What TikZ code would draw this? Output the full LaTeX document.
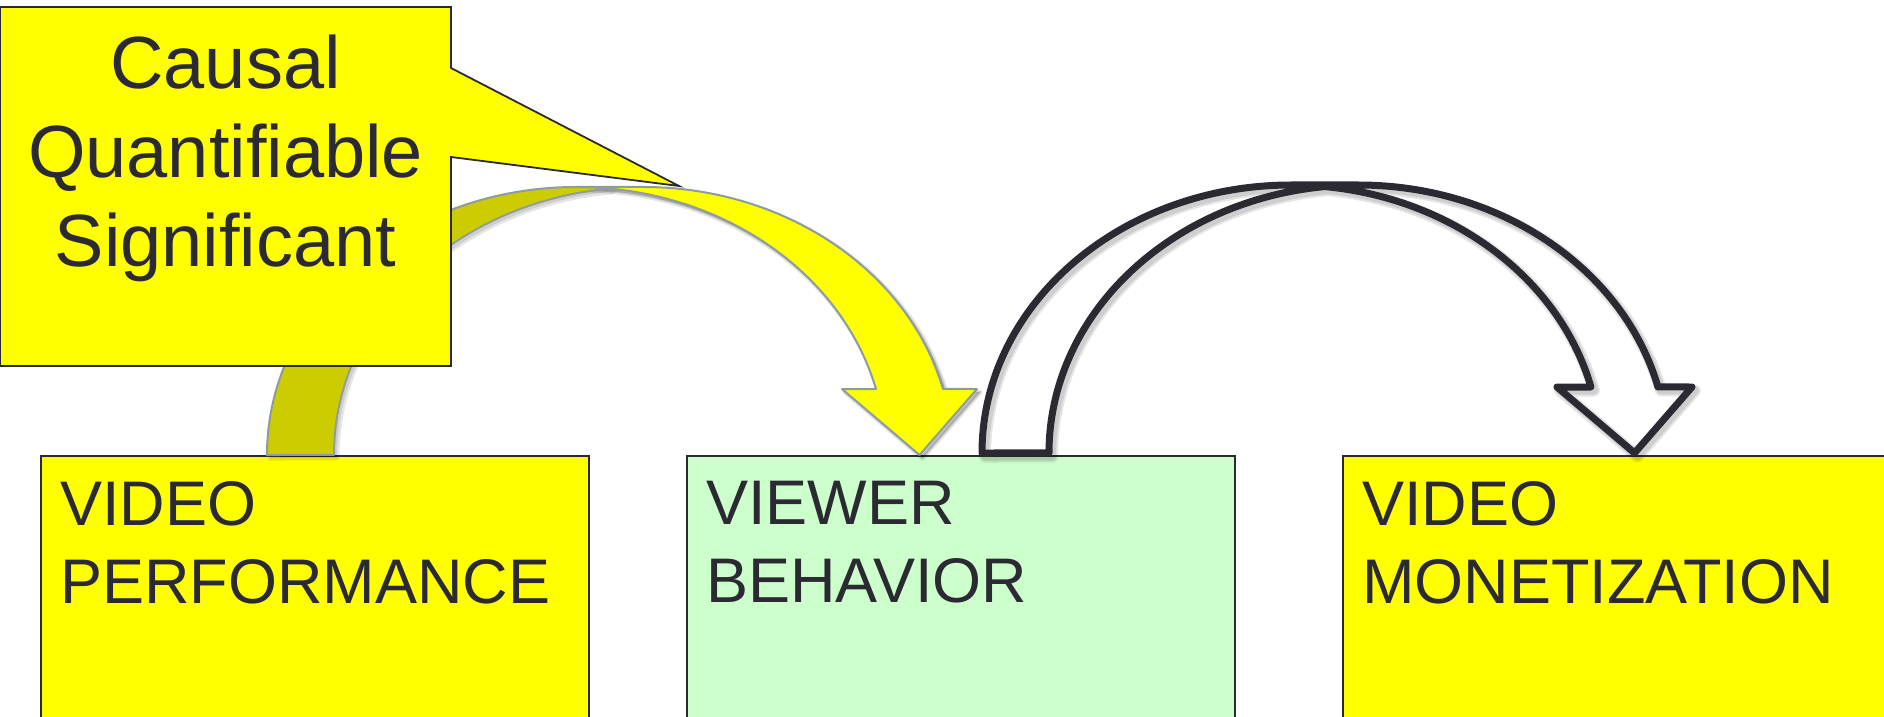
\documentclass[tikz,border=0pt]{standalone}
\usepackage{fontspec}
\setmainfont{Liberation Sans}
\definecolor{ink}{RGB}{43,42,51}
\definecolor{boxyellow}{RGB}{255,255,0}
\definecolor{boxgreen}{RGB}{204,255,204}
\definecolor{backband}{RGB}{204,204,0}
\definecolor{rim}{RGB}{142,156,158}

% Curved down arrow built from two equal ellipses (radii 309.25 x 268)
% centred at x=309.25 (A) and x=376.25 (B); band thickness 67,
% arrowhead 135 wide and 66 high; origin at the left foot of the arrow.
\newcommand\frontband{(652.5,0) -- (574.96,66) -- (608.96,66)
  arc[start angle=14.26, end angle=90, x radius=309.25, y radius=268]
  -- (376.25,268)
  arc[start angle=90, end angle=14.26, x radius=309.25, y radius=268]
  -- (709.96,66) -- cycle}
\newcommand\backband{(342.75,266.42)
  arc[start angle=96.22, end angle=180, x radius=309.25, y radius=268]
  -- (0,0)
  arc[start angle=180, end angle=83.78, x radius=309.25, y radius=268]
  -- cycle}
\newcommand\arrowrim{(342.75,266.42)
  arc[start angle=96.22, end angle=180, x radius=309.25, y radius=268]
  -- (0,0)
  arc[start angle=180, end angle=90, x radius=309.25, y radius=268]
  -- (376.25,268)
  arc[start angle=90, end angle=14.26, x radius=309.25, y radius=268]
  -- (709.96,66) -- (652.5,0) -- (574.96,66) -- (608.96,66)
  arc[start angle=14.26, end angle=90, x radius=309.25, y radius=268]}

\begin{document}
\begin{tikzpicture}[x=1pt, y=1pt,
  stagebox/.style={draw=ink, line width=1.8pt, anchor=north west,
    minimum width=548pt, minimum height=300pt, inner sep=0pt},
  stagetext/.style={anchor=north west, inner sep=0pt, align=left, text=ink,
    font=\fontsize{63}{78}\selectfont},
  notetext/.style={anchor=north, inner sep=0pt, align=center, text=ink,
    font=\fontsize{74}{89}\selectfont},
  softshadow/.style={black, opacity=0.10, line join=round},
]
\useasboundingbox (0,0) rectangle (1884,716);
\clip (0,0) rectangle (1884,716);

% the three stages
\node[stagebox, fill=boxyellow] (perf)  at (40,261) {};
\node[stagebox, fill=boxgreen]  (behav) at (686,261) {};
\node[stagebox, fill=boxyellow, minimum width=600pt] (monet) at (1342,261) {};

\node[stagetext] (perf-label)  at (60,235)   {VIDEO\\PERFORMANCE};
\node[stagetext] (behav-label) at (706,235)  {VIEWER\\BEHAVIOR};
\node[stagetext] (monet-label) at (1362,235) {VIDEO\\MONETIZATION};

% yellow arrow: performance -> behaviour
\begin{scope}[shift={(267,261)}]
  \filldraw[softshadow, line width=5pt, shift={(3,-3)}] \backband;
  \filldraw[softshadow, line width=5pt, shift={(3,-3)}] \frontband;
  \filldraw[softshadow, line width=2pt, shift={(3,-3)}] \frontband;
  \fill[backband] \backband;
  \fill[boxyellow] \frontband;
  \draw[rim, line width=2pt, line join=round] \arrowrim;
\end{scope}

% outlined arrow: behaviour -> monetization
\begin{scope}[shift={(982,263)}]
  \draw[softshadow, line width=12pt, shift={(3,-3.5)}] \arrowrim;
  \draw[softshadow, line width=8pt, shift={(3,-3.5)}] \arrowrim;
  \draw[ink, line width=7pt, line join=round] \arrowrim;
\end{scope}

% callout
\draw[ink, line width=1.8pt, fill=boxyellow, line join=miter]
  (0,709) -- (451,709) -- (451,648) -- (679,530) -- (451,559)
  -- (451,350) -- (0,350) -- cycle;
\node[notetext] (note) at (225.5,681) {Causal\\Quantifiable\\Significant};
\end{tikzpicture}
\end{document}
